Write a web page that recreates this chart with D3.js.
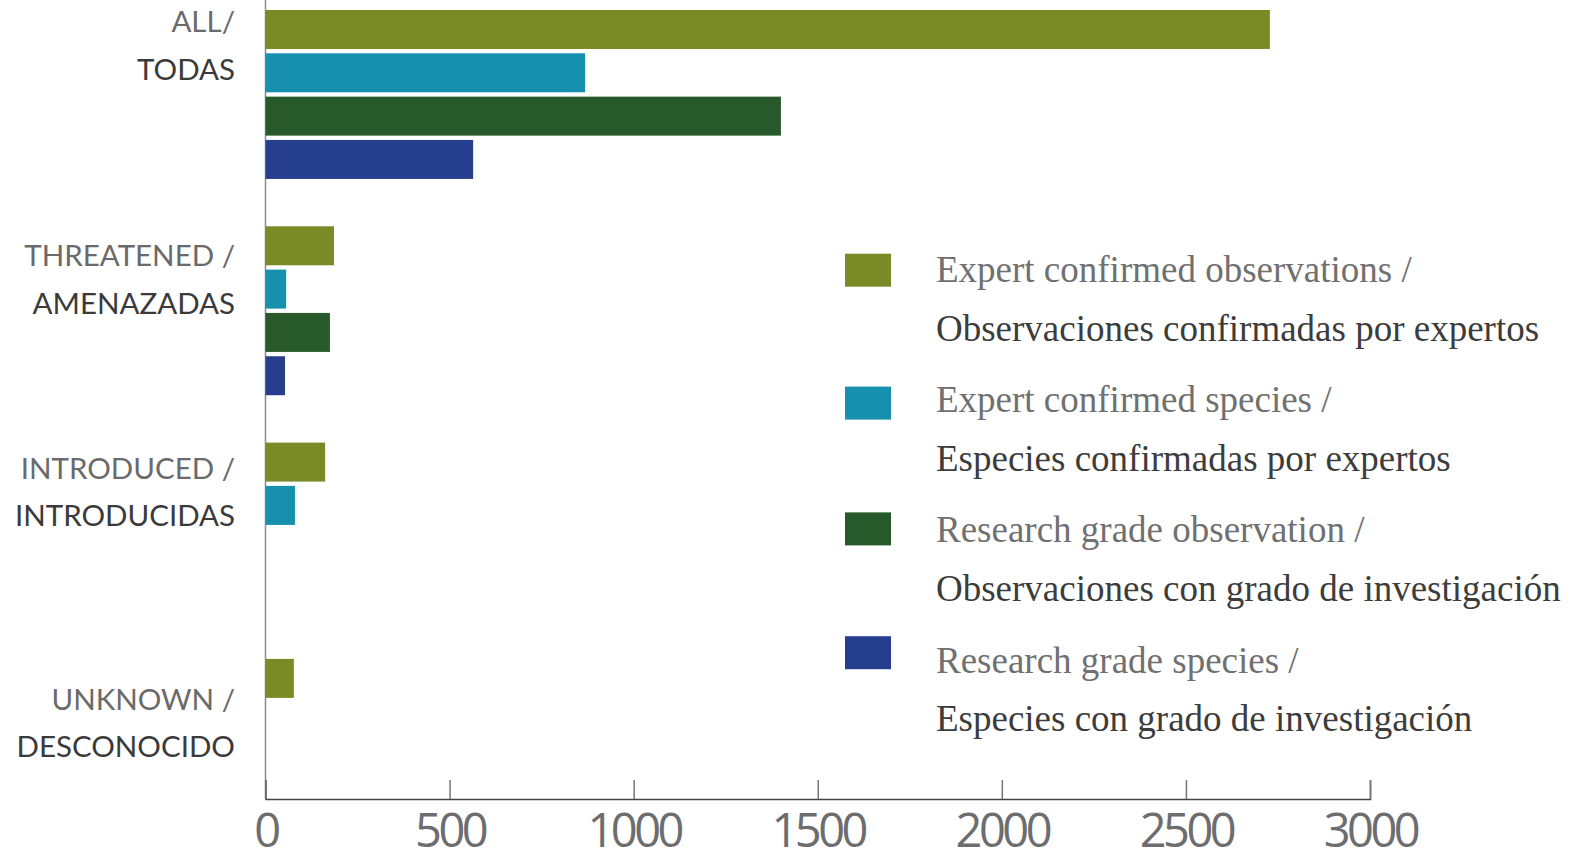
<!DOCTYPE html>
<html><head><meta charset="utf-8">
<script src="https://cdn.jsdelivr.net/npm/d3@7"></script>
<style>
html,body{margin:0;padding:0;background:#fff;}
svg{display:block;}
</style></head>
<body>
<svg id="chart" width="1591" height="857"></svg>
<script>
// ---- data ----
const categories = ["all", "threatened", "introduced", "unknown"];
const categoryLine1 = ["ALL/", "THREATENED /", "INTRODUCED /", "UNKNOWN /"];
const categoryLine2 = ["TODAS", "AMENAZADAS", "INTRODUCIDAS", "DESCONOCIDO"];
const seriesKeys = ["expObs", "expSpp", "rgObs", "rgSpp"];
const seriesLine1 = ["Expert confirmed observations /", "Expert confirmed species /", "Research grade observation /", "Research grade species /"];
const seriesLine2 = ["Observaciones confirmadas por expertos", "Especies confirmadas por expertos", "Observaciones con grado de investigación", "Especies con grado de investigación"];
const expertObservations = [2728, 186, 162, 77];
const expertSpecies = [868, 56, 80, 0];
const researchObservations = [1400, 175, 0, 0];
const researchSpecies = [564, 53, 0, 0];
const xTicks = [0, 500, 1000, 1500, 2000, 2500, 3000];

// ---- layout / style ----
const colors = ["#7a8a27", "#1690ad", "#28592a", "#253f8e"];
const labelBaselineOffset = [22, 40, 36, 51];
const legendSquareTop = [253.7, 386.6, 512.4, 636.2];

const seriesValues = [expertObservations, expertSpecies, researchObservations, researchSpecies];
const rows = categories.map((c, i) => ({cat: c, values: seriesKeys.map((k, j) => ({key: k, value: seriesValues[j][i], idx: j}))}));

const svg = d3.select("#chart");
const x = d3.scaleLinear().domain([0, 3000]).range([265.5, 1370]);
const axisY = 799;
const y = d3.scaleBand().domain(categories).range([10, 10 + 4 * 216.3]).paddingInner(0).paddingOuter(0);
const yInner = d3.scaleBand().domain(seriesKeys).range([0, y.bandwidth() * 0.781]).paddingInner(0.1).paddingOuter(0);
const color = d3.scaleOrdinal().domain(seriesKeys).range(colors);

svg.append("defs").append("clipPath").attr("id", "plotclip")
  .append("rect").attr("x", 0).attr("y", 0).attr("width", 1591).attr("height", axisY);

// vertical axis line (behind bars)
svg.append("line").attr("x1", x(0)).attr("x2", x(0)).attr("y1", 0).attr("y2", axisY)
  .attr("stroke", "#8a8a8a").attr("stroke-width", 1.5);

// bars
const plot = svg.append("g").attr("clip-path", "url(#plotclip)");
plot.selectAll("g.grp").data(rows).join("g").attr("class", "grp")
  .attr("transform", d => `translate(0,${y(d.cat)})`)
  .selectAll("rect").data(d => d.values).join("rect")
  .attr("x", x(0))
  .attr("y", d => yInner(d.key))
  .attr("width", d => x(d.value) - x(0))
  .attr("height", yInner.bandwidth())
  .attr("fill", d => color(d.key))
  .attr("stroke", d => d.value === 0 ? "#222" : "none")
  .attr("stroke-width", 1);

// bottom axis
const xAxis = d3.axisBottom(x).tickValues(xTicks).tickSize(-19).tickPadding(15).tickFormat(d3.format("d"));
const gx = svg.append("g").attr("transform", `translate(0,${axisY})`).call(xAxis);
gx.select(".domain").attr("stroke", "#444").attr("stroke-width", 1.5);
gx.selectAll(".tick line").attr("stroke", "#777").attr("stroke-width", 1.5);
gx.selectAll(".tick text")
  .attr("fill", "#6d6d70")
  .style("font-family", "'Open Sans', sans-serif")
  .style("font-size", "47px")
  .style("letter-spacing", "-3.5px")
  .attr("dy", "0.71em");

// category labels
const lab = svg.append("g").selectAll("g").data(categories).join("g");
lab.append("text")
  .attr("x", 235).attr("y", (d, i) => y(d) + labelBaselineOffset[i])
  .attr("text-anchor", "end")
  .style("font-family", "Lato, sans-serif").style("font-size", "29.5px")
  .attr("fill", "#6a6a6a")
  .text((d, i) => categoryLine1[i]);
lab.append("text")
  .attr("x", 235).attr("y", (d, i) => y(d) + labelBaselineOffset[i] + 47.5)
  .attr("text-anchor", "end")
  .style("font-family", "Lato, sans-serif").style("font-size", "29.5px")
  .attr("fill", "#3a3a3a")
  .text((d, i) => categoryLine2[i]);

// legend
const legText = d3.scalePoint().domain(seriesKeys).range([282, 282 + 3 * 130.2]);
const leg = svg.append("g").selectAll("g").data(seriesKeys).join("g");
leg.append("rect")
  .attr("x", 845).attr("y", (d, i) => legendSquareTop[i])
  .attr("width", 46).attr("height", 33).attr("fill", d => color(d));
leg.append("text").attr("x", 936).attr("y", d => legText(d))
  .style("font-family", "'Liberation Serif', serif").style("font-size", "37px")
  .attr("fill", "#707070")
  .text((d, i) => seriesLine1[i]);
leg.append("text").attr("x", 936).attr("y", d => legText(d) + 58.5)
  .style("font-family", "'Liberation Serif', serif").style("font-size", "37px")
  .attr("fill", "#3c3c3c")
  .text((d, i) => seriesLine2[i]);
</script>
</body></html>
